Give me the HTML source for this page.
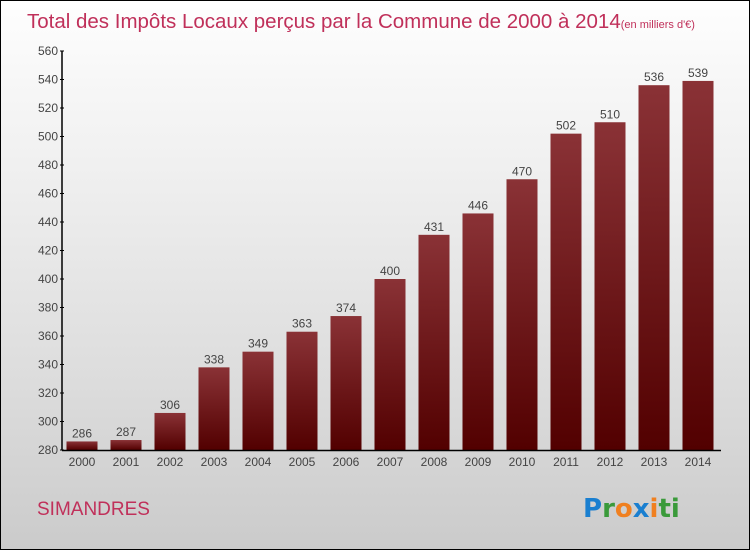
<!DOCTYPE html>
<html><head><meta charset="utf-8"><style>
body{margin:0}
#c{position:relative;width:748px;height:548px;border:1px solid #000;background:linear-gradient(#fefefe,#f0f0f0 30%,#dcdcdc 70%,#cbcbcb);font-family:"Liberation Sans",sans-serif;overflow:hidden}
</style></head><body>
<div id="c">
<svg id="s" width="748" height="548" style="position:absolute;left:0;top:0">
<text x="26" y="27" font-size="20.5" fill="#c0305a">Total des Impôts Locaux perçus par la Commune de 2000 à 2014<tspan font-size="11">(en milliers d'€)</tspan></text>
<text x="36" y="514" font-size="19" fill="#c0305a">SIMANDRES</text>
<text x="582" y="516" font-size="26" font-weight="bold" font-family="DejaVu Sans, sans-serif"><tspan fill="#1a7fd0">P</tspan><tspan fill="#3a9a3a">r</tspan><tspan fill="#f08020">o</tspan><tspan fill="#1a7fd0">x</tspan><tspan fill="#f08020">i</tspan><tspan fill="#3a9a3a">ti</tspan></text>
</svg>
</div>
<script>
const years=["2000","2001","2002","2003","2004","2005","2006","2007","2008","2009","2010","2011","2012","2013","2014"];
const values=[286,287,306,338,349,363,374,400,431,446,470,502,510,536,539];
const yTicks=[280,300,320,340,360,380,400,420,440,460,480,500,520,540,560];
const s=document.getElementById('s');const NS='http://www.w3.org/2000/svg';
const y0=449,y1=50,vmin=280,vmax=560;
const Y=v=>y0-(v-vmin)/(vmax-vmin)*(y0-y1);
const X=i=>81+i*44;
function mk(t,a){const e=document.createElementNS(NS,t);for(const k in a)e.setAttribute(k,a[k]);s.appendChild(e);return e;}
const defs=mk('defs',{});
defs.innerHTML='<linearGradient id="g" x1="0" y1="0" x2="0" y2="1"><stop offset="0" stop-color="#8a3236"/><stop offset="1" stop-color="#520000"/></linearGradient>';
values.forEach((v,i)=>{
const r=mk('rect',{x:X(i)-15.5,y:Y(v),width:31,height:y0-Y(v),fill:'url(#g)'});


const t=mk('text',{x:X(i),y:Y(v)-4,'text-anchor':'middle','font-size':12,fill:'#444'});t.textContent=v;


const xl=mk('text',{x:X(i),y:y0+16,'text-anchor':'middle','font-size':12,fill:'#444'});xl.textContent=years[i];


});
yTicks.forEach(v=>{
mk('line',{x1:59,x2:63,y1:Y(v),y2:Y(v),stroke:'#000'});
const t=mk('text',{x:57,y:Y(v)+4,'text-anchor':'end','font-size':12,fill:'#444'});t.textContent=v;


});
const ya=mk('line',{x1:61,x2:61,y1:y1,y2:y0,stroke:'#000','stroke-width':1.5});


const xa=mk('line',{x1:61,x2:720,y1:y0+0.5,y2:y0+0.5,stroke:'#000','stroke-width':1.5});


</script>
</body></html>
